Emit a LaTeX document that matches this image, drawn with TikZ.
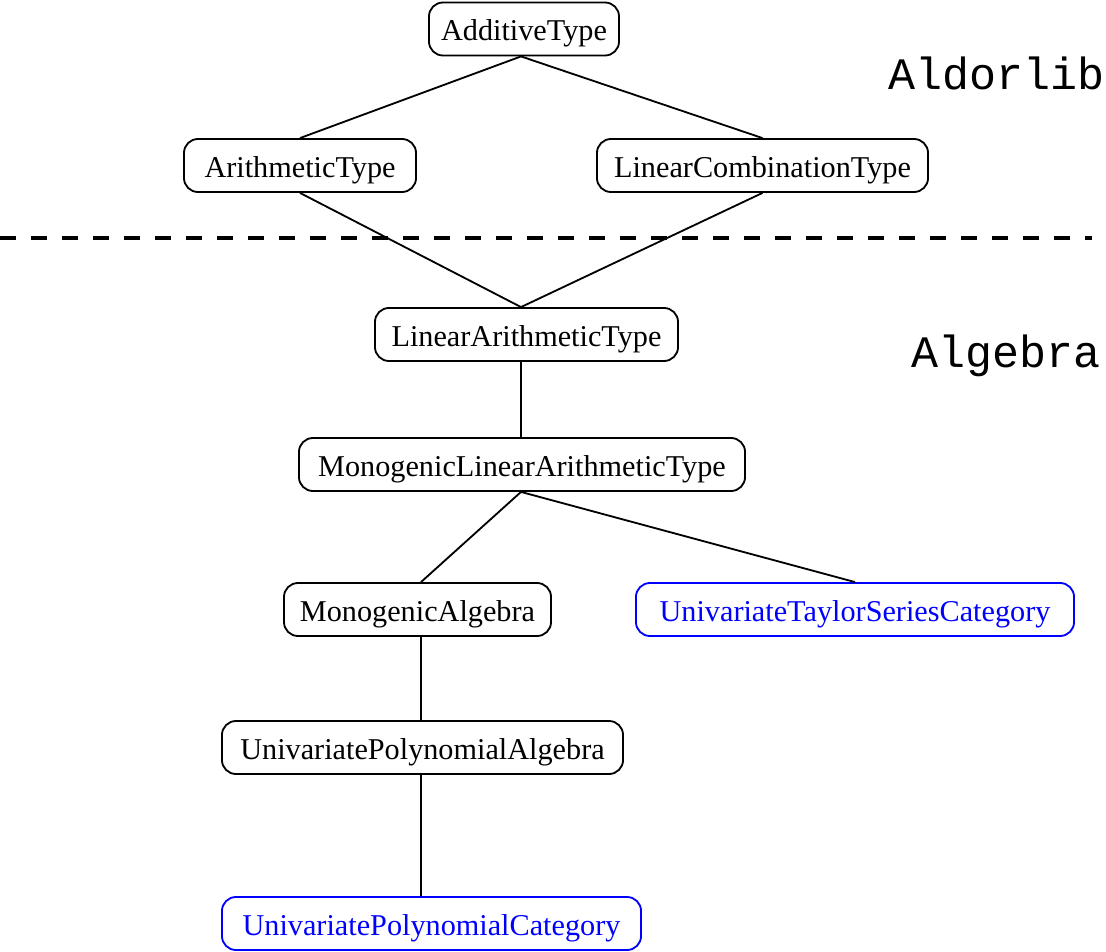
\documentclass[tikz,border=0pt]{standalone}
\usepackage{fontspec}
\setmainfont{Liberation Serif}
\setmonofont{Liberation Mono}
\usepackage{tikz}
\usetikzlibrary{positioning}

\tikzset{
  cat/.style={draw=black, line width=1.3pt, rounded corners=0.35cm,
    minimum height=1.325cm, inner sep=0pt, text height=17.5pt, text depth=1pt,
    font=\fontsize{21.5}{26}\selectfont},
  newcat/.style={cat, draw=blue, text=blue},
  link/.style={line width=1.3pt},
  libname/.style={font=\fontsize{32}{36}\selectfont\ttfamily},
}

\begin{document}
\begin{tikzpicture}[x=0.025cm,y=-0.025cm]
\useasboundingbox (0,0) rectangle (1106,952);
% Aldorlib part
\node[cat, minimum width=4.75cm] (add) at (524,29) {AdditiveType};
\node[cat, minimum width=5.8cm] (arith) at (300,165.5) {ArithmeticType};
\node[cat, minimum width=8.275cm] (lincomb) at (762.5,165.5) {LinearCombinationType};
\node[libname] (aldorlib) at (997,73) {Aldorlib};
% border between libraries
\draw[line width=3pt, dash pattern=on 0.4cm off 0.375cm] (0,238) -- (1092,238);
% Algebra part
\node[libname] (algebra) at (1006,356) {Algebra};
\node[cat, minimum width=7.575cm] (linarith) at (526.5,334.5) {LinearArithmeticType};
\node[cat, minimum width=11.15cm] (mlat) at (522,464.5) {MonogenicLinearArithmeticType};
\node[cat, minimum width=6.675cm] (monalg) at (417.5,609.5) {MonogenicAlgebra};
\node[newcat, minimum width=10.95cm] (utsc) at (855,609.5) {UnivariateTaylorSeriesCategory};
\node[cat, minimum width=10.025cm] (upa) at (422.5,747.5) {UnivariatePolynomialAlgebra};
\node[newcat, minimum width=10.475cm] (upc) at (431.5,923.5) {UnivariatePolynomialCategory};
% links
\draw[link] ([xshift=-0.075cm]add.south) -- (arith.north);
\draw[link] ([xshift=-0.075cm]add.south) -- (lincomb.north);
\draw[link] (arith.south) -- ([xshift=-0.1375cm]linarith.north);
\draw[link] (lincomb.south) -- ([xshift=-0.1375cm]linarith.north);
\draw[link] ([xshift=-0.1375cm]linarith.south) -- ([xshift=-0.025cm]mlat.north);
\draw[link] ([xshift=-0.025cm]mlat.south) -- ([xshift=0.0875cm]monalg.north);
\draw[link] ([xshift=-0.025cm]mlat.south) -- (utsc.north);
\draw[link] ([xshift=0.0875cm]monalg.south) -- ([xshift=-0.0375cm]upa.north);
\draw[link] ([xshift=-0.0375cm]upa.south) -- ([xshift=-0.2625cm]upc.north);
\end{tikzpicture}
\end{document}
